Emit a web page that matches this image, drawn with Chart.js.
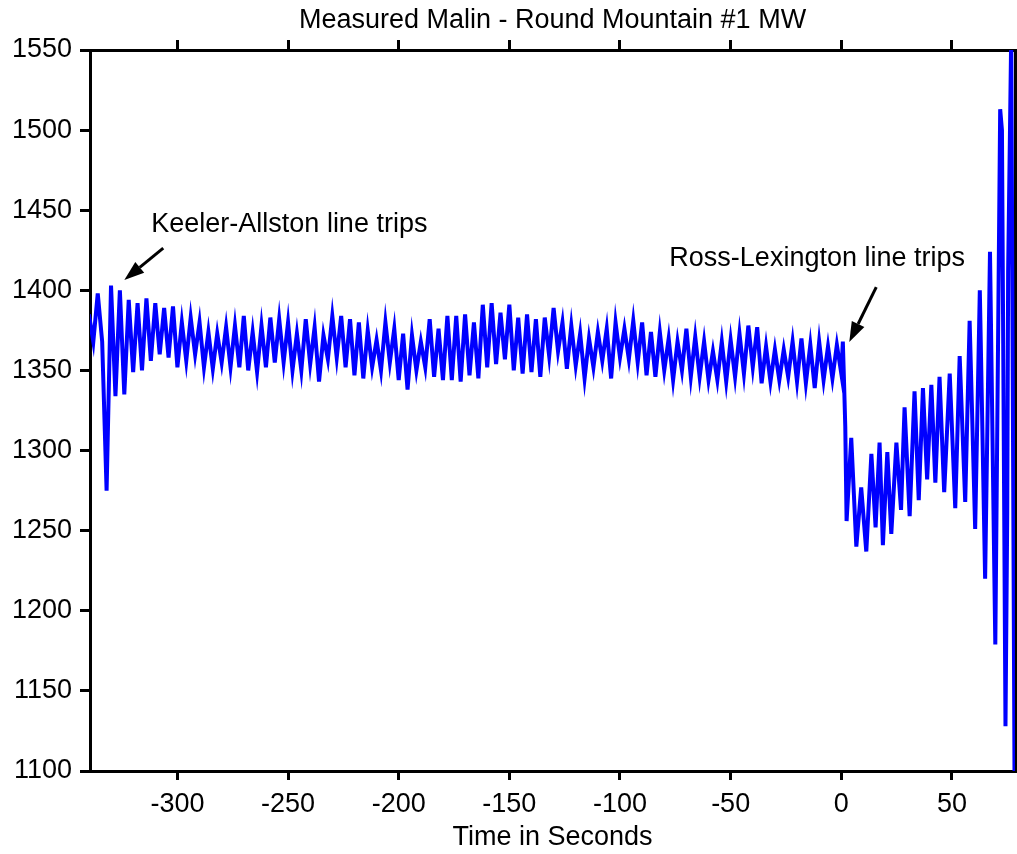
<!DOCTYPE html>
<html>
<head>
<meta charset="utf-8">
<title>Measured Malin - Round Mountain #1 MW</title>
<script src="https://cdn.jsdelivr.net/npm/chart.js@4.4.0/dist/chart.umd.min.js"></script>
<style>
  html, body { margin: 0; padding: 0; background: #fff; }
</style>
</head>
<body>
<canvas id="malin" width="1017" height="854"></canvas>
<script>
// seconds relative to the Ross-Lexington trip
const timeSec = [
  -340,-338,-336,-334,-332,-330,-328,-326,-324,-322,
  -320,-318,-316,-314,-312,-310,-308,-306,-304,-302,
  -300,-298,-296,-294,-292,-290,-288,-286,-284,-282,
  -280,-278,-276,-274,-272,-270,-268,-266,-264,-262,
  -260,-258,-256,-254,-252,-250,-248,-246,-244,-242,
  -240,-238,-236,-234,-232,-230,-228,-226,-224,-222,
  -220,-218,-216,-214,-212,-210,-208,-206,-204,-202,
  -200,-198,-196,-194,-192,-190,-188,-186,-184,-182,
  -180,-178,-176,-174,-172,-170,-168,-166,-164,-162,
  -160,-158,-156,-154,-152,-150,-148,-146,-144,-142,
  -140,-138,-136,-134,-132,-130,-128,-126,-124,-122,
  -120,-118,-116,-114,-112,-110,-108,-106,-104,-102,
  -100,-98,-96,-94,-92,-90,-88,-86,-84,-82,
  -80,-78,-76,-74,-72,-70,-68,-66,-64,-62,
  -60,-58,-56,-54,-52,-50,-48,-46,-44,-42,
  -40,-38,-36,-34,-32,-30,-28,-26,-24,-22,
  -20,-18,-16,-14,-12,-10,-8,-6,-4,-2,
  0,0.7,1.3,1.8,2.4,4.5,6.8,9.0,11.3,13.6,
  15.5,17.3,18.8,20.8,22.6,24.9,27.0,28.6,30.9,33.1,
  35.0,36.9,38.8,40.7,42.5,44.4,46.5,49.0,51.5,53.5,
  56.0,58.0,60.5,62.6,65.0,67.2,69.6,71.8,72.6,74.2,
  75.0,75.4,76.8,78.3
];

const mw = [
  1385,1368,1398,1368,1275,1403,1334,1400,1335,1394,
  1349,1392,1350,1395,1356,1392,1360,1389,1358,1390,
  1352,1380,1356,1383,1360,1380,1352,1374,1351,1373,
  1355,1377,1352,1378,1352,1384,1350,1374,1349,1378,
  1352,1383,1355,1382,1355,1380,1350,1373,1350,1382,
  1354,1377,1343,1372,1357,1384,1358,1384,1352,1382,
  1347,1380,1345,1375,1352,1369,1350,1380,1355,1376,
  1344,1373,1338,1372,1350,1368,1352,1382,1346,1376,
  1344,1384,1344,1384,1343,1385,1347,1380,1345,1391,
  1352,1392,1354,1386,1357,1391,1350,1383,1348,1385,
  1349,1382,1346,1383,1359,1389,1362,1380,1351,1378,
  1353,1373,1345,1370,1352,1374,1356,1376,1345,1380,
  1358,1376,1357,1381,1355,1380,1347,1374,1346,1374,
  1350,1370,1344,1368,1350,1376,1346,1371,1346,1368,
  1344,1362,1344,1368,1343,1369,1346,1373,1348,1378,
  1352,1377,1342,1365,1343,1363,1344,1363,1346,1368,
  1343,1370,1342,1366,1339,1368,1344,1365,1345,1366,
  1348,1368,1340,1315,1256,1308,1240,1277,1237,1298,
  1252,1305,1241,1299,1248,1305,1263,1327,1259,1337,
  1269,1339,1282,1341,1280,1346,1274,1348,1264,1359,
  1268,1381,1251,1400,1220,1424,1179,1513,1500,1128,
  1262,1412,1560,1090
];

const xTicks = [-300, -250, -200, -150, -100, -50, 0, 50];
const yTicks = [1100, 1150, 1200, 1250, 1300, 1350, 1400, 1450, 1500, 1550];

const notes = [
  { text: 'Keeler-Allston line trips', at: [-311.8, 1436.4], from: [-306.4, 1426.4], to: [-324.0, 1406.4] },
  { text: 'Ross-Lexington line trips', at: [-77.7, 1415.2], from: [15.8, 1402.0], to: [3.6, 1367.8] }
];

const FONT = "'Liberation Sans', Arial, sans-serif";
const axisFont = { family: FONT, size: 27 };

const points = timeSec.map((t, i) => ({ x: t, y: mw[i] }));

function setTicks(values) {
  return function (scale) {
    scale.ticks = values.map(v => ({ value: v }));
  };
}

const frame = { display: true, color: '#000', width: 3 };
const tickMarks = { display: true, drawOnChartArea: false, drawTicks: true, tickLength: 10, color: '#000', lineWidth: 3 };

// annotation text + arrows
const notesPlugin = {
  id: 'notes',
  afterDatasetsDraw(chart) {
    const ctx = chart.ctx;
    const xs = chart.scales.x, ys = chart.scales.y;
    ctx.save();
    ctx.fillStyle = '#000';
    ctx.strokeStyle = '#000';
    ctx.font = '27px ' + FONT;
    ctx.textBaseline = 'alphabetic';
    notes.forEach(n => {
      ctx.fillText(n.text, xs.getPixelForValue(n.at[0]), ys.getPixelForValue(n.at[1]));
      const x1 = xs.getPixelForValue(n.from[0]), y1 = ys.getPixelForValue(n.from[1]);
      const x2 = xs.getPixelForValue(n.to[0]), y2 = ys.getPixelForValue(n.to[1]);
      const ang = Math.atan2(y2 - y1, x2 - x1);
      const head = 20, half = 7;
      const bx = x2 - head * Math.cos(ang), by = y2 - head * Math.sin(ang);
      ctx.lineWidth = 3;
      ctx.beginPath();
      ctx.moveTo(x1, y1);
      ctx.lineTo(bx, by);
      ctx.stroke();
      ctx.beginPath();
      ctx.moveTo(x2, y2);
      ctx.lineTo(bx + half * Math.sin(ang), by - half * Math.cos(ang));
      ctx.lineTo(bx - half * Math.sin(ang), by + half * Math.cos(ang));
      ctx.closePath();
      ctx.fill();
    });
    ctx.restore();
  }
};

new Chart(document.getElementById('malin'), {
  type: 'line',
  data: {
    datasets: [{
      data: points,
      borderColor: '#0000ff',
      borderWidth: 4,
      pointRadius: 0,
      tension: 0,
      fill: false,
      clip: 0
    }]
  },
  options: {
    responsive: false,
    animation: false,
    layout: { padding: 0 },
    plugins: {
      legend: { display: false },
      tooltip: { enabled: false }
    },
    scales: {
      x: {
        type: 'linear',
        position: 'bottom',
        min: -339.5,
        max: 78.5,
        afterBuildTicks: setTicks(xTicks),
        afterFit(s) { s.height = 83; },
        border: frame,
        grid: { ...tickMarks, tickLength: 9 },
        ticks: { color: '#000', font: axisFont, padding: 8, maxRotation: 0, callback: v => String(v) },
        title: { display: true, text: 'Time in Seconds', color: '#000', font: axisFont, padding: { top: 0, bottom: 0 } }
      },
      xTop: {
        type: 'linear',
        position: 'top',
        min: -339.5,
        max: 78.5,
        afterBuildTicks: setTicks(xTicks),
        afterFit(s) { s.height = 50; },
        border: frame,
        grid: tickMarks,
        ticks: { display: false },
        title: { display: true, text: 'Measured Malin - Round Mountain #1 MW', color: '#000', font: axisFont, padding: { top: 4, bottom: 0 } }
      },
      y: {
        type: 'linear',
        position: 'left',
        min: 1100,
        max: 1550,
        afterBuildTicks: setTicks(yTicks),
        afterFit(s) { s.width = 90; },
        border: frame,
        grid: tickMarks,
        ticks: { color: '#000', font: axisFont, padding: 8, callback: v => String(v) }
      },
      yRight: {
        type: 'linear',
        position: 'right',
        min: 1100,
        max: 1550,
        afterBuildTicks: setTicks(yTicks),
        afterFit(s) { s.width = 2; },
        border: frame,
        grid: tickMarks,
        ticks: { display: false }
      }
    }
  },
  plugins: [notesPlugin]
});
</script>
</body>
</html>
